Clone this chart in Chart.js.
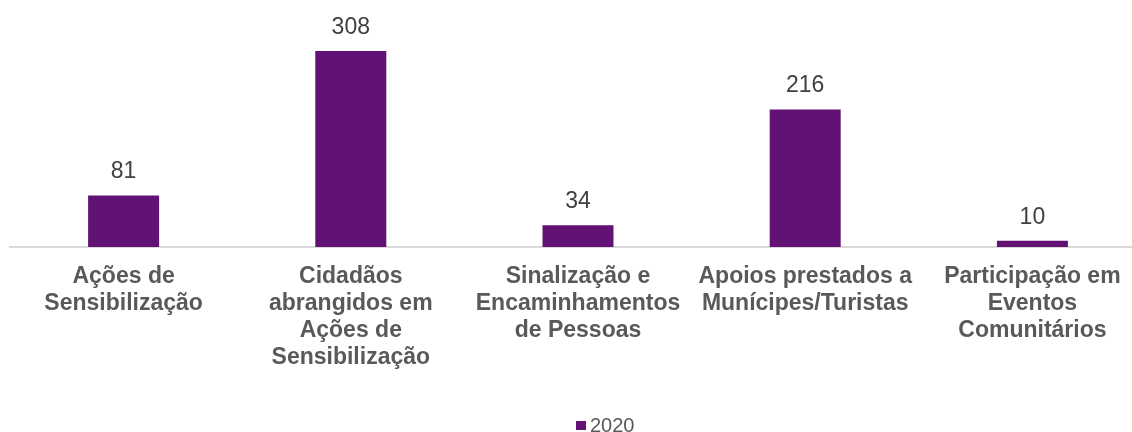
<!DOCTYPE html>
<html>
<head>
<meta charset="utf-8">
<script src="https://cdn.jsdelivr.net/npm/chart.js@4"></script>
<style>
  html, body { margin: 0; padding: 0; background: #fff; overflow: hidden; }
  #wrap { position: relative; width: 1132px; height: 432px; overflow: hidden; }
  #chart { position: absolute; left: 0; top: 0; }
  #legend {
    position: absolute; left: 576px; top: 414px;
    font: 20px "Liberation Sans", Arial, sans-serif; color: #595959;
    display: flex; align-items: center;
  }
  #legend span.box { width: 10px; height: 9px; background: #621274; margin-right: 4px; }
</style>
</head>
<body>
<div id="wrap">
  <canvas id="chart" width="1150" height="432"></canvas>
  <div id="legend"><span class="box"></span><span>2020</span></div>
</div>
<script>
// =====================
// DATA
// =====================
const categories = [
    ["Ações de", "Sensibilização"],
    ["Cidadãos", "abrangidos em", "Ações de", "Sensibilização"],
    ["Sinalização e", "Encaminhamentos", "de Pessoas"],
    ["Apoios prestados a", "Munícipes/Turistas"],
    ["Participação em", "Eventos", "Comunitários"]
];
const seriesName = "2020";
const values2020 = [81, 308, 34, 216, 10];

const barColor = "#621274";

// =====================
// VALUE LABELS
// =====================
const valueLabels = {
    id: "valueLabels",
    afterDatasetsDraw(chart) {
        const ctx = chart.ctx;
        const meta = chart.getDatasetMeta(0);
        ctx.save();
        ctx.font = "23px 'Liberation Sans', Arial, sans-serif";
        ctx.fillStyle = "#404040";
        ctx.textAlign = "center";
        ctx.textBaseline = "alphabetic";
        meta.data.forEach((bar, i) => {
            ctx.fillText(String(values2020[i]), bar.x, bar.y - 17);
        });
        ctx.restore();
    }
};

// =====================
// CHART
// =====================
new Chart(document.getElementById("chart"), {
    type: "bar",
    data: {
        labels: categories,
        datasets: [{
            label: seriesName,
            data: values2020,
            backgroundColor: barColor,
            barPercentage: 0.3125,
            categoryPercentage: 1
        }]
    },
    options: {
        responsive: false,
        animation: false,
        devicePixelRatio: 1,
        layout: { padding: { left: 10, right: 4, top: 0, bottom: 0 } },
        plugins: {
            legend: { display: false },
            tooltip: { enabled: false }
        },
        scales: {
            y: {
                display: false,
                min: 0,
                max: 388
            },
            x: {
                afterFit(scale) { scale.height = 185; },
                grid: { display: false, drawTicks: false },
                border: { display: true, color: "#d9d9d9", width: 2 },
                ticks: {
                    autoSkip: false,
                    maxRotation: 0,
                    padding: 16,
                    color: "#595959",
                    font: { family: "'Liberation Sans', Arial, sans-serif", size: 23, weight: "bold", lineHeight: "27px" }
                }
            }
        }
    },
    plugins: [valueLabels]
});
</script>
</body>
</html>
